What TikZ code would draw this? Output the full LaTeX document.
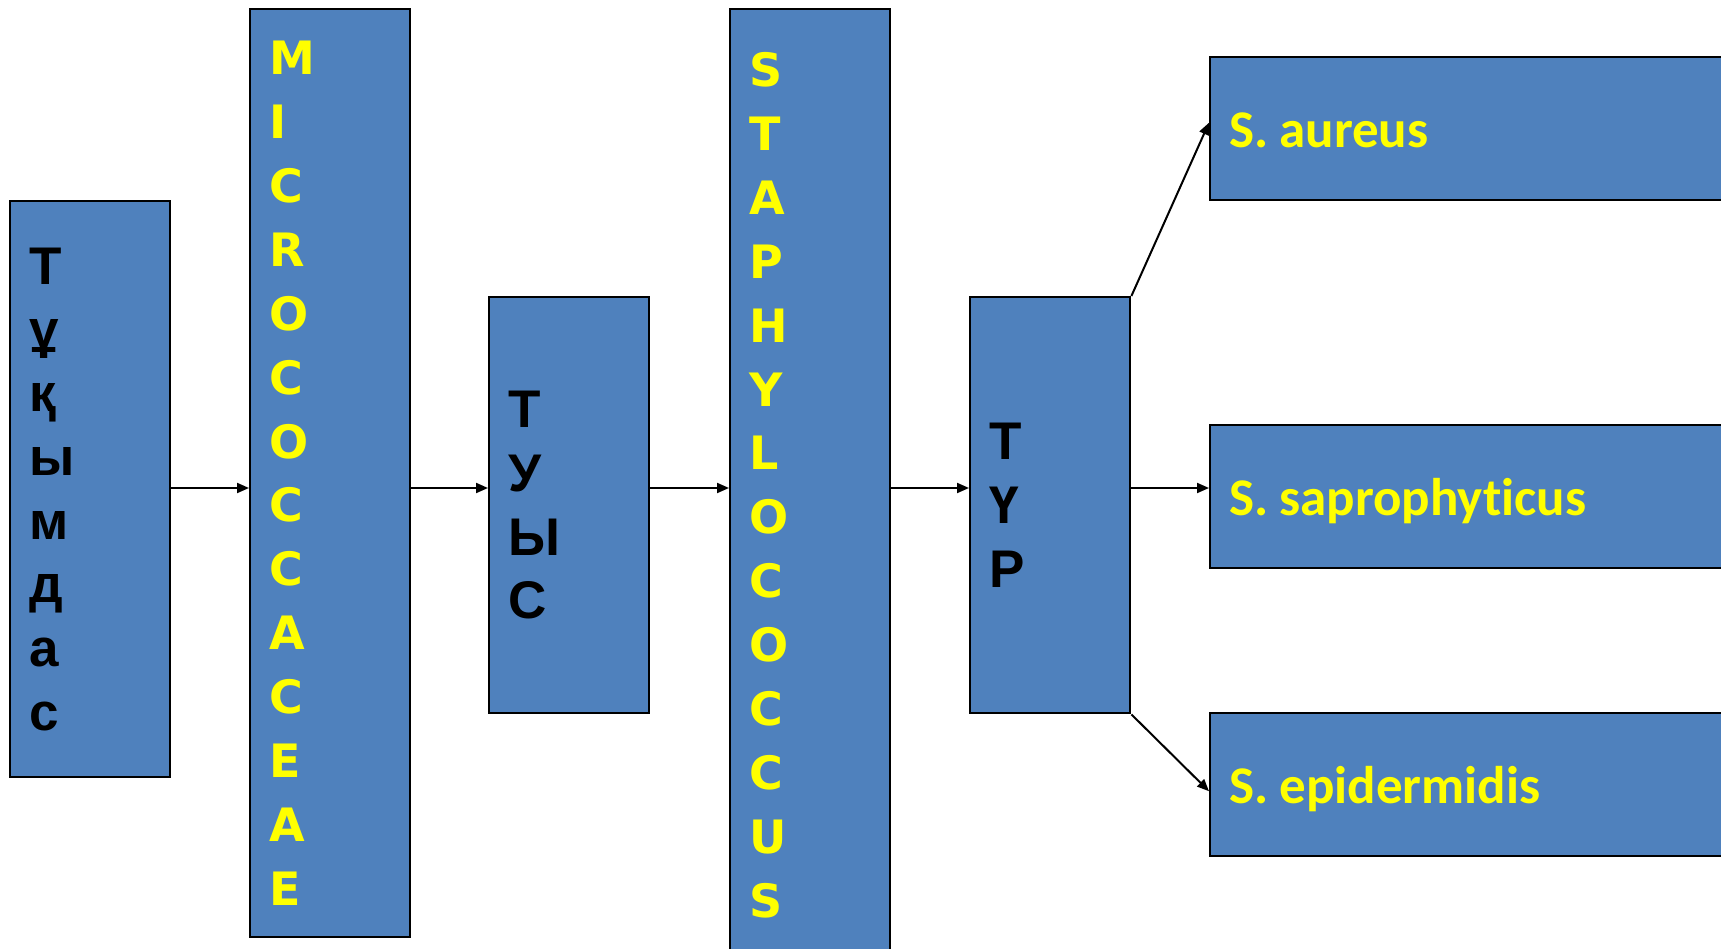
\documentclass[tikz,border=0pt]{standalone}
\usepackage{fontspec}
\newfontfamily\kzfont{Liberation Sans}
\newfontfamily\capfont{DejaVu Sans}
\newfontfamily\spfont{Carlito}[Ligatures=NoCommon]
\usetikzlibrary{arrows.meta}
\definecolor{boxblue}{HTML}{4F81BD}
\definecolor{txtyellow}{HTML}{FFFF00}
\begin{document}
\begin{tikzpicture}[x=1pt,y=-1pt,
  box/.style={draw=black, line width=2.4pt, fill=boxblue, anchor=north west, inner xsep=19pt, inner ysep=0pt, align=left},
  vbox/.style={box, text width=122pt},
  kz/.style={font=\kzfont\bfseries\fontsize{53}{63.7}\selectfont, text=black},
  lat/.style={font=\capfont\bfseries\fontsize{46}{63.9}\selectfont, text=txtyellow},
  sp/.style={box, text width=474pt, minimum height=143pt, font=\spfont\bfseries\fontsize{53}{60}\selectfont, text=txtyellow, text height=38pt, text depth=0pt},
  conn/.style={line width=2pt, -{Triangle[length=12pt,width=10pt]}}]
\useasboundingbox (0,0) rectangle (1721,949);
\node[vbox,kz,minimum height=576pt] (b1) at (9,200) {Т\\ұ\\қ\\ы\\м\\д\\а\\с};
\node[vbox,lat,minimum height=928pt] (b2) at (249,8) {M\\I\\C\\R\\O\\C\\O\\C\\C\\A\\C\\E\\A\\E};
\node[vbox,kz,minimum height=416pt] (b3) at (488,296) {Т\\У\\Ы\\С};
\node[vbox,lat,minimum height=952pt] (b4) at (729,8) {S\\T\\A\\P\\H\\Y\\L\\O\\C\\O\\C\\C\\U\\S};
\node[vbox,kz,minimum height=416pt] (b5) at (969,296) {Т\\Ү\\Р};
\node[sp] (s1) at (1209,56) {S.\hspace{11pt}aureus};
\node[sp] (s2) at (1209,424) {S.\hspace{11pt}saprophyticus};
\node[sp] (s3) at (1209,712) {S.\hspace{11pt}epidermidis};
\coordinate (row) at (0,488);
\draw[conn] (b1.east |- row) -- (b2.west |- row);
\draw[conn] (b2.east |- row) -- (b3.west |- row);
\draw[conn] (b3.east |- row) -- (b4.west |- row);
\draw[conn] (b4.east |- row) -- (b5.west |- row);
\draw[conn] (b5.north east) -- ([yshift=6pt]s1.west);
\draw[conn] (b5.east |- row) -- (s2.west |- row);
\draw[conn] (b5.south east) -- ([yshift=-6.5pt]s3.west);
\end{tikzpicture}
\end{document}
